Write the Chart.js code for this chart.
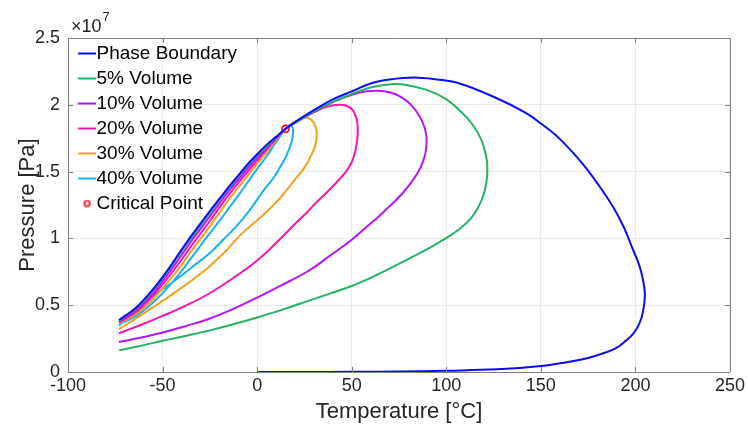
<!DOCTYPE html>
<html>
<head>
<meta charset="utf-8">
<script src="https://cdn.jsdelivr.net/npm/chart.js@4"></script>
<style>
  html, body { margin: 0; padding: 0; background: #fff; }
</style>
</head>
<body>
<canvas id="chart" width="748" height="432"></canvas>
<script>
// Temperature [°C] and pressure [x10^7 Pa]
const boundaryT = [-73, -65, -60, -55, -50, -45, -40, -35, -30, -25, -20, -15, -10, -5, 0, 5, 10, 15,
  20, 30, 40, 50, 60, 70, 83, 95, 107, 125, 142, 150, 160, 172, 180, 188, 194, 198, 202, 204, 205,
  204, 202, 199, 195, 190, 183, 175, 165, 150, 127, 100, 75, 50, 25, 0];
const boundaryP = [0.389, 0.47, 0.54, 0.62, 0.71, 0.81, 0.915, 1.015, 1.11, 1.205, 1.295, 1.385, 1.47, 1.555, 1.63, 1.70, 1.76, 1.82,
  1.87, 1.96, 2.04, 2.10, 2.16, 2.19, 2.205, 2.19, 2.16, 2.06, 1.94, 1.86, 1.745, 1.56, 1.41, 1.24, 1.08, 0.94, 0.80, 0.69, 0.58,
  0.45, 0.36, 0.29, 0.235, 0.18, 0.14, 0.105, 0.077, 0.045, 0.02, 0.01, 0.004, 0.0015, 0.0005, 0];

const vol5T = [-73, -65, -60, -55, -50, -45, -40, -35, -30, -25, -20, -15, -10, -5, 0, 5, 10, 15,
  20, 30, 40, 50, 60, 72, 80, 90, 99, 107, 113.5, 118.5, 121, 121.7, 121.5, 120, 117, 113, 107, 99, 90, 81, 71, 60,
  50, 38, 27, 13, 0, -13, -26, -38, -50, -62, -73];
const vol5P = [0.385, 0.465, 0.53, 0.61, 0.70, 0.80, 0.905, 1.0, 1.095, 1.19, 1.285, 1.375, 1.46, 1.545, 1.62, 1.69, 1.755, 1.82,
  1.865, 1.95, 2.02, 2.08, 2.13, 2.155, 2.145, 2.11, 2.05, 1.96, 1.86, 1.74, 1.62, 1.54, 1.45, 1.34, 1.235, 1.15, 1.07, 0.995, 0.92, 0.855, 0.781, 0.705,
  0.644, 0.585, 0.532, 0.465, 0.408, 0.355, 0.308, 0.27, 0.234, 0.195, 0.162];

const vol10T = [-73, -65, -60, -55, -50, -45, -40, -35, -30, -25, -20, -15, -10, -5, 0, 5, 10, 15,
  20, 30, 40, 50, 57, 64, 71, 77, 82, 86, 88.5, 89.5, 89.5, 89, 87.8, 86, 83.5, 80.5, 77, 73, 68.5, 64, 59, 50, 38, 27, 13, 0, -13, -26, -38, -50, -62, -73];
const vol10P = [0.38, 0.455, 0.515, 0.59, 0.68, 0.775, 0.875, 0.975, 1.07, 1.165, 1.26, 1.355, 1.44, 1.525, 1.605, 1.68, 1.75, 1.82,
  1.865, 1.945, 2.02, 2.075, 2.10, 2.105, 2.09, 2.05, 1.99, 1.91, 1.83, 1.76, 1.70, 1.64, 1.58, 1.52, 1.46, 1.40, 1.34, 1.28, 1.22, 1.16, 1.10, 0.99, 0.865, 0.756, 0.65, 0.557, 0.47, 0.395, 0.343, 0.296, 0.256, 0.224];

const vol20T = [-73, -65, -60, -55, -50, -45, -40, -35, -30, -25, -20, -15, -10, -5, 0, 5, 10, 15,
  20, 27, 33, 38, 43, 47, 50.5, 52.5, 53.2, 53, 52, 50, 47, 43, 38, 32, 26, 19.7, 10, 0, -13, -26, -38, -50, -62, -73];
const vol20P = [0.372, 0.44, 0.50, 0.57, 0.655, 0.745, 0.84, 0.94, 1.035, 1.13, 1.23, 1.325, 1.415, 1.50, 1.585, 1.665, 1.745, 1.82,
  1.865, 1.925, 1.965, 1.99, 2.0, 1.995, 1.96, 1.90, 1.83, 1.75, 1.66, 1.57, 1.50, 1.435, 1.36, 1.279, 1.19, 1.104, 0.965, 0.835, 0.70, 0.582, 0.495, 0.42, 0.35, 0.29];

const vol30T = [-73, -65, -60, -55, -50, -45, -40, -35, -30, -25, -20, -15, -10, -5, 0, 5, 10, 15,
  20, 25.5, 28.5, 30.8, 31.5, 30.8, 28.5, 25, 20, 10, 2, -8.5, -17, -26, -38, -50, -62, -73];
const vol30P = [0.365, 0.425, 0.48, 0.545, 0.625, 0.71, 0.80, 0.90, 0.995, 1.09, 1.19, 1.29, 1.38, 1.47, 1.56, 1.645, 1.735, 1.82,
  1.875, 1.905, 1.89, 1.84, 1.78, 1.70, 1.62, 1.53, 1.44, 1.27, 1.16, 1.03, 0.90, 0.781, 0.65, 0.532, 0.42, 0.321];

const vol40T = [-73, -65, -60, -55, -50, -45, -40, -35, -30, -25, -20, -15, -10, -5, 0, 5, 10, 15,
  17, 18.6, 19, 18.2, 15.5, 12, 8.5, 4, 0, -4, -11, -18, -25, -34, -43, -52, -60, -67, -73];
const vol40P = [0.357, 0.41, 0.46, 0.52, 0.59, 0.67, 0.755, 0.85, 0.945, 1.04, 1.13, 1.225, 1.32, 1.42, 1.52, 1.615, 1.72, 1.82,
  1.845, 1.835, 1.79, 1.72, 1.62, 1.53, 1.45, 1.37, 1.29, 1.21, 1.09, 0.99, 0.89, 0.79, 0.69, 0.60, 0.52, 0.43, 0.347];

const criticalT = [15];
const criticalP = [1.82];

const seriesLabels = ['Phase Boundary', '5% Volume', '10% Volume', '20% Volume', '30% Volume', '40% Volume', 'Critical Point'];
const seriesColors = ['#0a0aff', '#26b266', '#b414ff', '#ff14aa', '#f5a021', '#17b1f2', '#ff0000'];

const xTicks = [-100, -50, 0, 50, 100, 150, 200, 250];
const yTicks = [0, 0.5, 1, 1.5, 2, 2.5];

const FONT = 'Liberation Sans, Arial, Helvetica, sans-serif';
const AREA = { left: 68, top: 38, right: 736, bottom: 372 };

function toPoints(xs, ys) {
  return xs.map((x, i) => ({ x, y: ys[i] }));
}

/** Small canvas used as the legend sample */
function legendSample(color, isPoint) {
  const c = document.createElement('canvas');
  c.width = 30;
  c.height = 8;
  const g = c.getContext('2d');
  g.strokeStyle = color;
  g.beginPath();
  if (isPoint) {
    g.lineWidth = 1.5;
    g.arc(21.5, 4, 2.8, 0, Math.PI * 2);
  } else {
    g.lineWidth = 2;
    g.moveTo(12.5, 4);
    g.lineTo(30, 4);
  }
  g.stroke();
  return c;
}

function lineSet(i, xs, ys) {
  return {
    label: seriesLabels[i],
    data: toPoints(xs, ys),
    showLine: true,
    borderColor: seriesColors[i],
    borderWidth: 2,
    pointRadius: 0,
    tension: 0.4,
  };
}

// box, inward ticks and the x10^7 exponent, MATLAB-like
const frame = {
  id: 'frame',
  beforeDraw(chart) {
    // legend in the chart area keeps top = 0 for vertical layouts, move it down
    const a = chart.chartArea;
    chart.legend.top = a.top;
    chart.legend.bottom = a.bottom;
  },
  afterDraw(chart) {
    const { ctx, chartArea: a, scales } = chart;
    ctx.save();
    ctx.strokeStyle = '#808080';
    ctx.lineWidth = 1;
    ctx.beginPath();
    ctx.moveTo(a.left, a.top + 0.5);
    ctx.lineTo(a.right + 0.5, a.top + 0.5);
    ctx.lineTo(a.right + 0.5, a.bottom);
    xTicks.forEach((v) => {
      const px = Math.round(scales.x.getPixelForValue(v)) + 0.5;
      ctx.moveTo(px, a.bottom); ctx.lineTo(px, a.bottom - 5);
      ctx.moveTo(px, a.top); ctx.lineTo(px, a.top + 5);
    });
    yTicks.forEach((v) => {
      const py = Math.round(scales.y.getPixelForValue(v)) + 0.5;
      ctx.moveTo(a.left, py); ctx.lineTo(a.left + 5, py);
      ctx.moveTo(a.right, py); ctx.lineTo(a.right - 5, py);
    });
    ctx.stroke();

    ctx.fillStyle = '#262626';
    ctx.textBaseline = 'alphabetic';
    ctx.font = '18px ' + FONT;
    ctx.fillText('\u00d710', a.left + 3, a.top - 6);
    const w = ctx.measureText('\u00d710').width;
    ctx.font = '13px ' + FONT;
    ctx.fillText('7', a.left + 4 + w, a.top - 17);
    ctx.restore();
  },
};

const datasets = [
  lineSet(0, boundaryT, boundaryP),
  lineSet(1, vol5T, vol5P),
  lineSet(2, vol10T, vol10P),
  lineSet(3, vol20T, vol20P),
  lineSet(4, vol30T, vol30P),
  lineSet(5, vol40T, vol40P),
  {
    label: seriesLabels[6],
    data: toPoints(criticalT, criticalP),
    showLine: false,
    pointStyle: 'circle',
    pointRadius: 3.5,
    borderWidth: 1.6,
    borderColor: seriesColors[6],
    backgroundColor: 'rgba(0,0,0,0)',
  },
];

new Chart(document.getElementById('chart'), {
  type: 'scatter',
  data: { datasets },
  options: {
    responsive: false,
    animation: false,
    layout: { autoPadding: false, padding: { left: 0, top: AREA.top, right: 748 - AREA.right, bottom: 0 } },
    plugins: {
      tooltip: { enabled: false },
      legend: {
        position: 'chartArea',
        align: 'start',
        labels: {
          usePointStyle: true,
          boxWidth: 13,
          padding: 6,
          color: '#000',
          font: { family: FONT, size: 19 },
          generateLabels: (chart) => chart.data.datasets.map((ds, i) => ({
            text: ds.label,
            pointStyle: legendSample(seriesColors[i], i === 6),
            fillStyle: 'rgba(0,0,0,0)',
            strokeStyle: 'rgba(0,0,0,0)',
            lineWidth: 0,
            hidden: false,
            datasetIndex: i,
            fontColor: '#000',
          })),
        },
      },
    },
    scales: {
      x: {
        type: 'linear',
        min: -100,
        max: 250,
        afterFit: (s) => { s.height = 432 - AREA.bottom; },
        afterBuildTicks: (s) => { s.ticks = xTicks.map((v) => ({ value: v })); },
        ticks: { color: '#262626', font: { family: FONT, size: 18 }, padding: 3, maxRotation: 0, callback: (v) => String(v) },
        grid: { color: '#ebebeb', drawTicks: false },
        border: { color: '#808080' },
        title: { display: true, text: 'Temperature [\u00b0C]', color: '#262626', font: { family: FONT, size: 22 }, padding: { top: 0, bottom: 7 } },
      },
      y: {
        type: 'linear',
        min: 0,
        max: 2.5,
        afterFit: (s) => { s.width = AREA.left; },
        afterBuildTicks: (s) => { s.ticks = yTicks.map((v) => ({ value: v })); },
        ticks: { color: '#262626', font: { family: FONT, size: 18 }, padding: 8, callback: (v) => String(v) },
        grid: { color: '#ebebeb', drawTicks: false },
        border: { color: '#808080' },
        title: { display: true, text: 'Pressure [Pa]', color: '#262626', font: { family: FONT, size: 22 }, padding: { top: 15, bottom: 0 } },
      },
    },
  },
  plugins: [frame],
});
</script>
</body>
</html>
